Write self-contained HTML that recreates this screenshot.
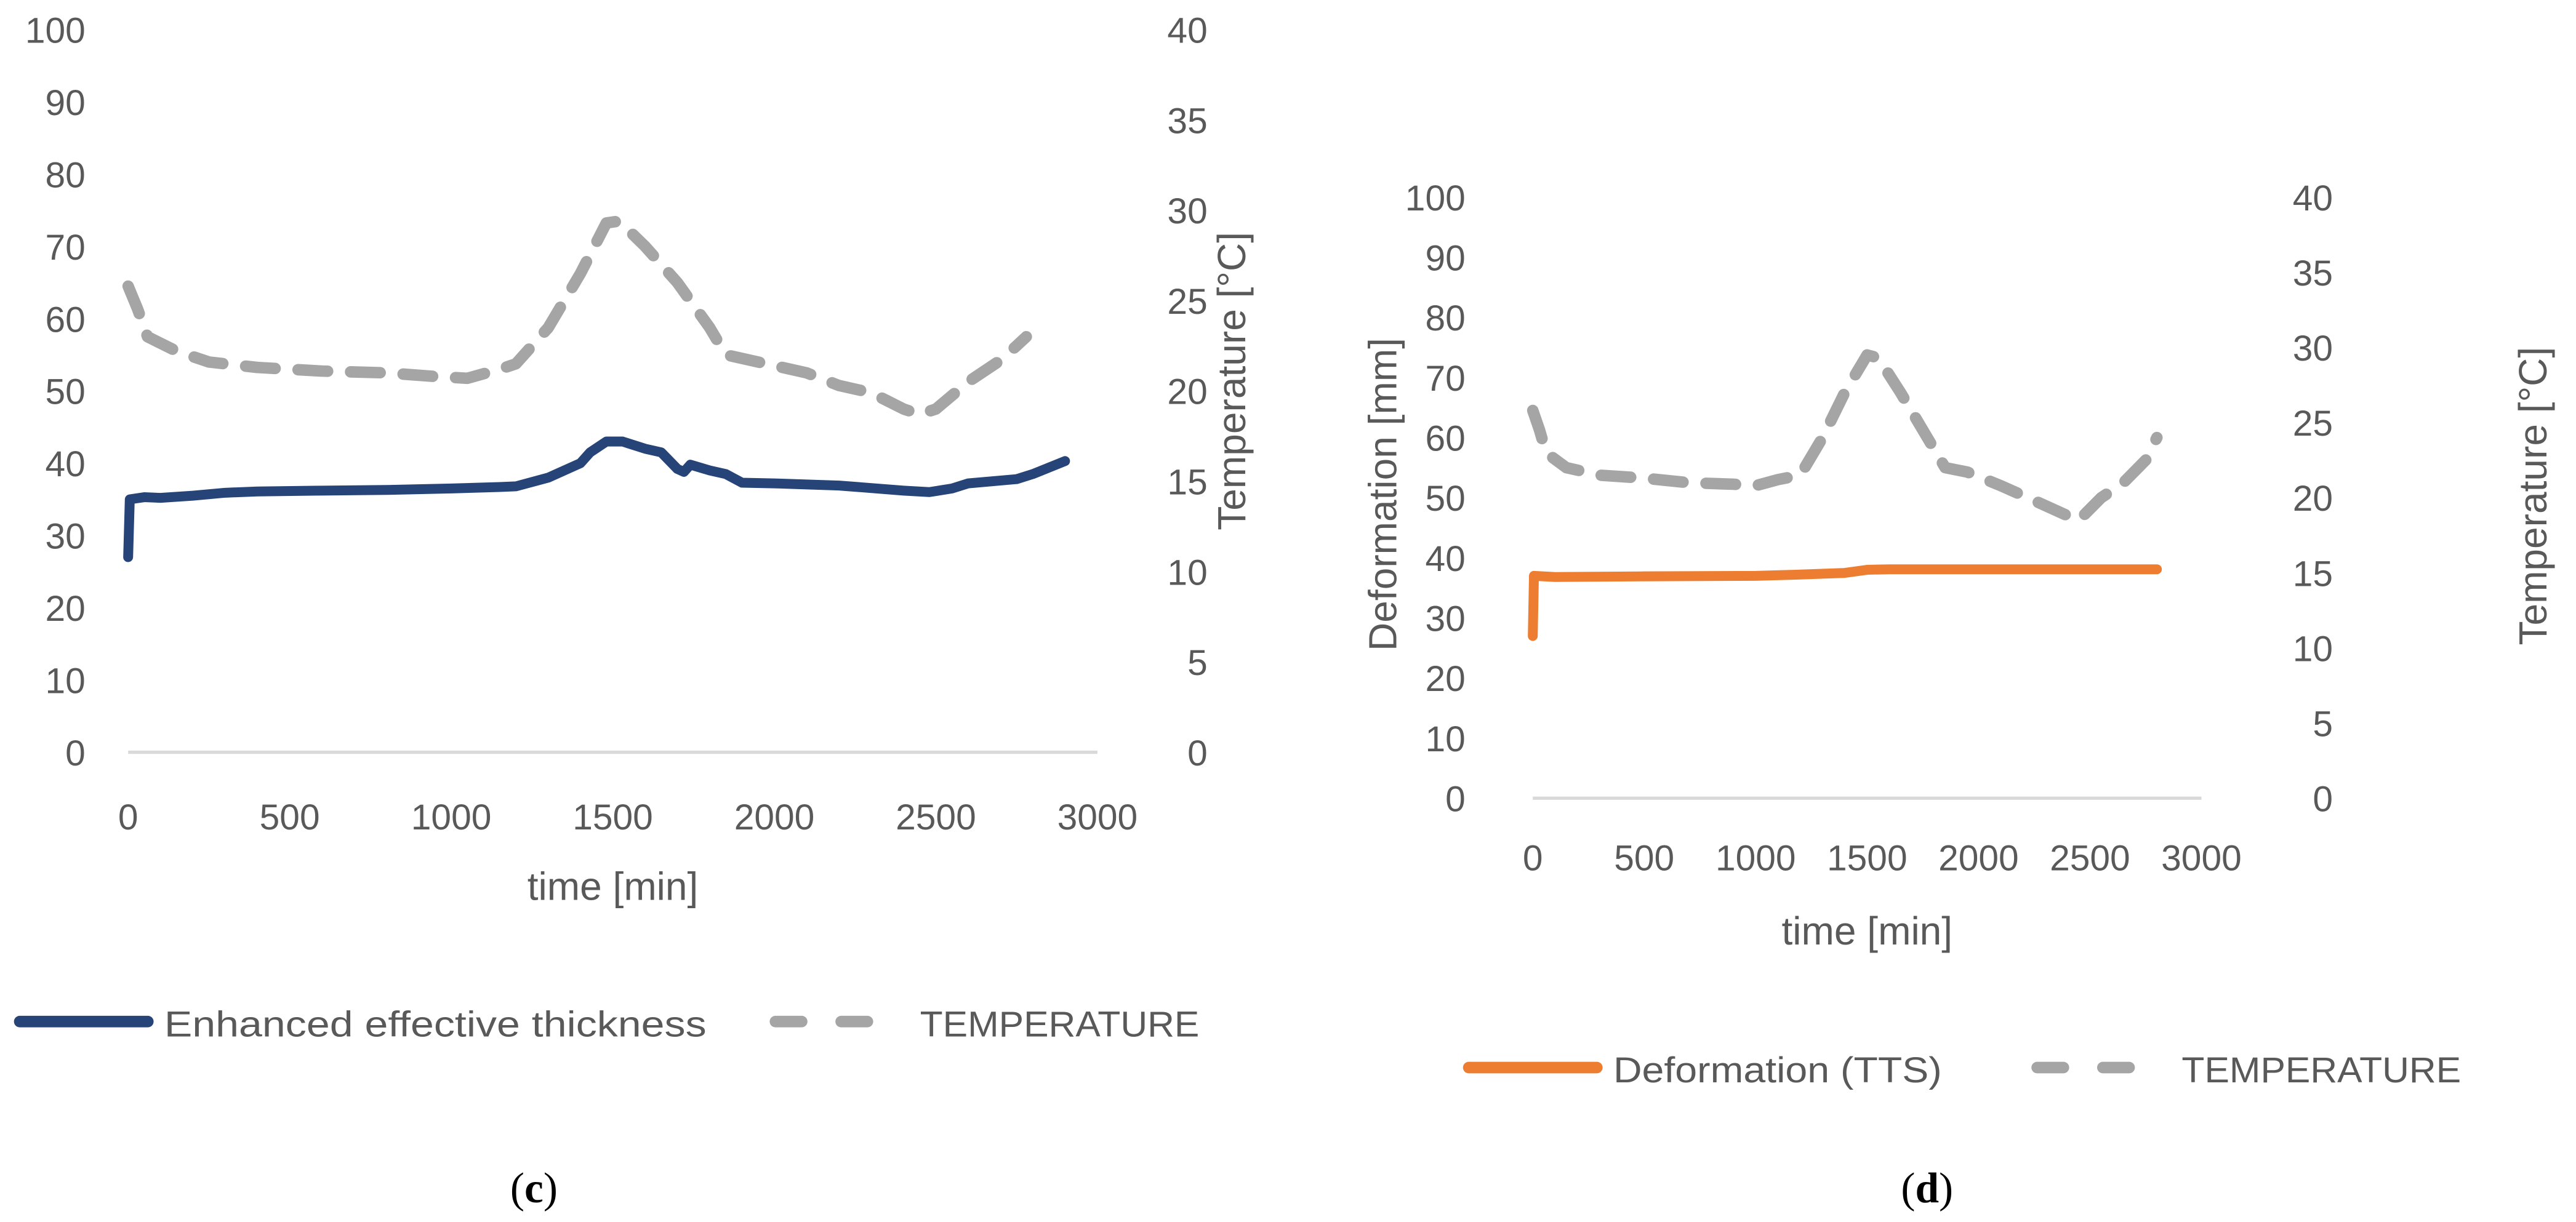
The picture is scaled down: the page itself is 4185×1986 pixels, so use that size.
<!DOCTYPE html>
<html><head><meta charset="utf-8"><style>
html,body{margin:0;padding:0;background:#fff;overflow:hidden;}
svg{display:block;}
text{font-family:"Liberation Sans",sans-serif;fill:#595959;}
</style></head><body>
<svg id="fig" width="4185" height="1986" viewBox="0 0 1568 744" xmlns="http://www.w3.org/2000/svg">
<g id="chartC"></g>
<g id="chartD"></g>
<text x="325" y="732" text-anchor="middle" style="font-family:'Liberation Serif',serif;font-size:26px;fill:#000">(<tspan font-weight="bold">c</tspan>)</text>
<text x="1173" y="732" text-anchor="middle" style="font-family:'Liberation Serif',serif;font-size:26px;fill:#000">(<tspan font-weight="bold">d</tspan>)</text>
</svg>
<script>
const xTicks=[0,500,1000,1500,2000,2500,3000];
const leftTicks=[0,10,20,30,40,50,60,70,80,90,100];
const rightTicks=[0,5,10,15,20,25,30,35,40];
const cTime=[0,5,50,100,200,300,400,600,800,1000,1150,1200,1300,1400,1430,1480,1530,1600,1650,1700,1720,1740,1800,1850,1900,2000,2200,2400,2480,2550,2600,2750,2800,2900];
const cThick=[27,35,35.3,35.2,35.5,35.9,36.1,36.2,36.3,36.5,36.7,36.8,38,40,41.5,43,43,42,41.5,39.2,38.8,39.8,39,38.5,37.3,37.2,36.9,36.2,36,36.5,37.2,37.8,38.5,40.3];
const cTempTime=[0,30,60,150,250,400,600,800,950,1050,1150,1200,1300,1400,1480,1520,1600,1700,1800,1850,1950,2100,2200,2300,2400,2450,2500,2600,2700,2750,2780];
const cTemp=[25.8,24.5,23,22.2,21.6,21.3,21.1,21,20.8,20.7,21.2,21.5,23.5,26.5,29.3,29.4,28,26,23.5,22,21.6,21,20.3,19.9,19,18.7,19,20.5,21.7,22.5,23];
const dTime=[0,5,100,500,1000,1200,1400,1500,1600,2800];
const dDef=[27,37,36.8,36.9,37,37.2,37.5,38,38.1,38.1];
const dTempTime=[0,30,60,150,300,500,700,900,1000,1100,1200,1300,1400,1500,1550,1650,1750,1850,1950,2100,2250,2400,2450,2550,2650,2750,2800];
const dTemp=[25.8,24.5,23,22,21.5,21.3,21,20.9,20.8,21.2,21.5,24,27,29.5,29.3,27,24.5,22,21.7,20.8,19.8,18.8,18.5,20,21,22.5,24];
const NS='http://www.w3.org/2000/svg';
function mk(parent,tag,attrs,txt){const e=document.createElementNS(NS,tag);for(const k in attrs)e.setAttribute(k,attrs[k]);if(txt!==undefined)e.textContent=txt;parent.appendChild(e);return e;}
function chart(g,o){
  const sx=v=>o.x0+(o.x1-o.x0)*v/3000;
  const sl=v=>o.y0-(o.y0-o.y1)*v/100;
  const sr=v=>o.y0-(o.y0-o.y1)*v/40;
  const ax=mk(g,'line',{x1:o.x0,x2:o.x1,y1:o.y0,y2:o.y0,stroke:'#d9d9d9','stroke-width':2});
  
  
  leftTicks.forEach(v=>{const t=mk(g,'text',{x:o.lx,y:sl(v)+8,'text-anchor':'end','font-size':22},String(v));
    
    });
  rightTicks.forEach(v=>{const t=mk(g,'text',{x:o.rx,y:sr(v)+8,'text-anchor':'end','font-size':22},String(v));
    
    });
  xTicks.forEach(v=>{const t=mk(g,'text',{x:sx(v),y:o.xly,'text-anchor':'middle','font-size':22},String(v));
    
    });
  const xt=mk(g,'text',{x:(o.x0+o.x1)/2,y:o.xty,'text-anchor':'middle','font-size':24},'time [min]');
  
  
  const rt=mk(g,'text',{x:0,y:0,'text-anchor':'middle','font-size':24,transform:`translate(${o.rtx},${o.rty}) rotate(-90)`},'Temperature [°C]');
  
  
  if(o.ltitle){const lt=mk(g,'text',{x:0,y:0,'text-anchor':'middle','font-size':24,transform:`translate(${o.ltx},${o.lty}) rotate(-90)`},o.ltitle);
    
    }
  const tp=o.tt.map((t,i)=>sx(t).toFixed(1)+','+sr(o.tv[i]).toFixed(1)).join(' ');
  const tl=mk(g,'polyline',{points:tp,fill:'none',stroke:'#a5a5a5','stroke-width':7,'stroke-dasharray':'18 14','stroke-linecap':'round','stroke-linejoin':'round'});
  
  
  const mp=o.mt.map((t,i)=>sx(t).toFixed(1)+','+sl(o.mv[i]).toFixed(1)).join(' ');
  const ml=mk(g,'polyline',{points:mp,fill:'none',stroke:o.col,'stroke-width':6,'stroke-linecap':'round','stroke-linejoin':'round'});
  
  
  const L=o.leg;
  const l1=mk(g,'line',{x1:L.x,x2:L.x+78,y1:L.y,y2:L.y,stroke:o.col,'stroke-width':7,'stroke-linecap':'round'});
  
  
  const t1=mk(g,'text',{x:L.x+88,y:L.y+9,'font-size':22,textLength:L.w1,lengthAdjust:'spacingAndGlyphs'},o.mlabel);
  
  
  const l2=mk(g,'line',{x1:L.x2,x2:L.x2+72,y1:L.y,y2:L.y,stroke:'#a5a5a5','stroke-width':7,'stroke-dasharray':'16 24','stroke-linecap':'round'});
  
  
  const t2=mk(g,'text',{x:L.x2+88,y:L.y+9,'font-size':22,textLength:170,lengthAdjust:'spacingAndGlyphs'},'TEMPERATURE');
  
  
}
chart(document.getElementById('chartC'),{x0:78,x1:668,y0:458,y1:18,lx:52,rx:735,xly:505,xty:548,rtx:758,rty:232,
  tt:cTempTime,tv:cTemp,mt:cTime,mv:cThick,col:'#264478',mname:'thickness-line',mlabel:'Enhanced effective thickness',
  leg:{x:12,y:622,w1:330,x2:472}});
chart(document.getElementById('chartD'),{x0:933,x1:1340,y0:486,y1:120,lx:892,rx:1420,xly:530,xty:575,rtx:1550,rty:302,ltx:850,lty:301,ltitle:'Deformation [mm]',
  tt:dTempTime,tv:dTemp,mt:dTime,mv:dDef,col:'#ed7d31',mname:'deformation-line',mlabel:'Deformation (TTS)',
  leg:{x:894,y:650,w1:200,x2:1240}});
</script>
</body></html>
